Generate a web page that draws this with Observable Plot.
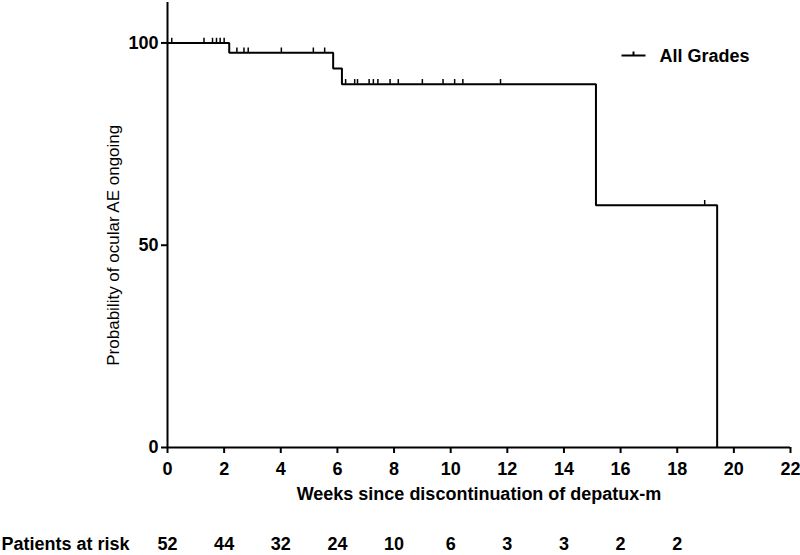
<!DOCTYPE html>
<html>
<head>
<meta charset="utf-8">
<script src="https://cdn.jsdelivr.net/npm/d3@7"></script>
<script src="https://cdn.jsdelivr.net/npm/@observablehq/plot@0.6"></script>
<style>
  html, body { margin: 0; padding: 0; background: #fff; }
</style>
</head>
<body>
<div id="chart"></div>
<script>
// Kaplan-Meier step curve (event times in weeks, survival %)
const eventTimes = [0, 2.18, 5.85, 6.16, 15.13, 19.41];
const survival   = [100, 97.6, 93.7, 89.8, 59.9, 0];

// Censored observations (time, survival level at that time)
const censorTimes  = [0.15, 1.29, 1.59, 1.73, 1.86, 2.0,
                      2.45, 2.70, 2.85, 4.02, 5.15, 5.55,
                      6.29, 6.61, 6.71, 7.12, 7.27, 7.43, 7.86, 8.15, 9.0, 9.73, 10.14, 10.43, 11.76,
                      18.97];
const censorLevels = [100, 100, 100, 100, 100, 100,
                      97.6, 97.6, 97.6, 97.6, 97.6, 97.6,
                      89.8, 89.8, 89.8, 89.8, 89.8, 89.8, 89.8, 89.8, 89.8, 89.8, 89.8, 89.8, 89.8,
                      59.9];

// Patients at risk
const riskTimes  = [0, 2, 4, 6, 8, 10, 12, 14, 16, 18];
const riskCounts = [52, 44, 32, 24, 10, 6, 3, 3, 2, 2];

const xTicks = [0, 2, 4, 6, 8, 10, 12, 14, 16, 18, 20, 22];
const yTicks = [0, 50, 100];

const xLabel = "Weeks since discontinuation of depatux-m";
const yLabel = "Probability of ocular AE ongoing";
const riskLabel = "Patients at risk";
const seriesName = "All Grades";

const km = eventTimes.map((t, i) => ({t, s: survival[i]}));
const censored = censorTimes.map((t, i) => ({t, s: censorLevels[i]}));
const risk = riskTimes.map((t, i) => ({t, n: riskCounts[i]}));

const font = "'Liberation Sans', Arial, Helvetica, sans-serif";

// legend symbol: horizontal line with a small upward tick
const legendSymbol = {
  draw(context) {
    context.moveTo(-12, 0);
    context.lineTo(12, 0);
    context.moveTo(0, 0);
    context.lineTo(0, -4);
  }
};

const chart = Plot.plot({
  width: 800,
  height: 555,
  marginLeft: 167,
  marginRight: 10,
  marginTop: 2,
  marginBottom: 108,
  style: {fontFamily: font, fontWeight: "bold", fontSize: "18px", background: "#fff", color: "#000"},
  x: {domain: [0, 22]},
  y: {domain: [0, 110]},
  marks: [
    Plot.axisX({ticks: xTicks, tickSize: 6, tickPadding: 9, strokeWidth: 2, fontSize: 18, label: null, tickFormat: d => String(d)}),
    Plot.axisY({ticks: yTicks, tickSize: 6, tickPadding: 3, strokeWidth: 2, fontSize: 18, label: null, tickFormat: d => String(d)}),
    Plot.ruleX([0], {strokeWidth: 2}),
    Plot.ruleY([0], {strokeWidth: 2}),
    Plot.line(km, {x: "t", y: "s", curve: "step-after", stroke: "#000", strokeWidth: 2, strokeLinejoin: "miter", strokeLinecap: "butt"}),
    Plot.ruleX(censored, {x: "t", y1: "s", y2: d => d.s + 1.15, stroke: "#000", strokeWidth: 1.5}),
    // axis labels
    Plot.text([xLabel], {frameAnchor: "bottom", dy: 47, fontSize: 18, fontWeight: "bold", lineAnchor: "middle"}),
    Plot.text([yLabel], {y: () => 50, frameAnchor: "left", dx: -54, rotate: -90, textAnchor: "middle", fontSize: 17, fontWeight: "normal", lineAnchor: "middle"}),
    // patients at risk row
    Plot.text(risk, {x: "t", text: d => String(d.n), frameAnchor: "bottom", dy: 97, fontSize: 18, fontWeight: "bold", lineAnchor: "middle"}),
    Plot.text([riskLabel], {frameAnchor: "bottom-left", dx: -166, dy: 97, textAnchor: "start", fontSize: 18, fontWeight: "bold", lineAnchor: "middle"}),
    // legend
    Plot.dot([seriesName], {frameAnchor: "top-right", dx: -157, dy: 53, symbol: legendSymbol, r: 5, stroke: "#000", strokeWidth: 2, fill: "none"}),
    Plot.text([seriesName], {frameAnchor: "top-right", dx: -131, dy: 54, textAnchor: "start", fontSize: 18, fontWeight: "bold", lineAnchor: "middle"})
  ]
});

document.getElementById("chart").appendChild(chart);
</script>
</body>
</html>
